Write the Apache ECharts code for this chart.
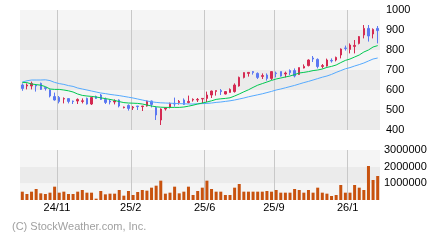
<!DOCTYPE html>
<html>
<head>
<meta charset="utf-8">
<script src="https://cdn.jsdelivr.net/npm/echarts@6/dist/echarts.min.js"></script>
<style>
html, body { margin: 0; padding: 0; background: #fff; }
#chart { width: 440px; height: 240px; }
</style>
</head>
<body>
<div id="chart"></div>
<script>
// weekly candles
const openP = [625,620,620,625,633,612,600,567,563,555,557,545,545,543,558,530,567,575,553,545,
  540,550,512,523,511,520,517,520,545,512,450,505,513,533,538,550,537,550,550,555,
  558,575,593,597,580,588,592,620,663,683,692,683,668,675,658,685,692,680,697,697,
  678,710,722,760,753,718,720,748,750,775,810,803,818,833,875,908,880,908];
const closeP = [608,625,633,620,603,608,570,550,542,557,543,542,553,546,530,562,558,553,538,540,
  545,520,515,508,515,517,520,545,528,475,505,510,533,530,543,528,543,553,553,558,
  575,595,597,592,592,603,625,663,687,688,687,663,672,658,692,682,670,685,687,670,
  712,718,750,755,717,722,750,745,763,805,808,825,823,867,908,870,903,897];
const lowP = [596,603,603,592,600,597,563,547,533,533,533,530,530,533,527,525,555,550,530,528,
  528,513,508,497,500,500,495,517,513,450,425,497,508,517,527,525,533,542,540,533,
  540,560,572,575,578,587,587,617,658,667,677,655,655,647,650,663,667,663,675,663,
  675,708,718,740,708,708,717,737,743,758,797,783,783,828,858,842,858,833];
const highP = [633,633,642,625,637,615,603,587,570,563,558,547,558,558,562,567,572,580,562,553,
  553,553,517,528,520,520,520,547,547,517,508,513,537,562,550,558,572,558,560,558,
  592,597,597,605,595,608,633,667,688,688,695,688,683,683,692,692,692,692,703,708,
  712,728,753,770,758,730,757,758,767,808,822,833,850,870,925,925,908,920];

// moving averages (green = short, blue = long)
const maShort = [638,637,630,627,624,617,605,603,603,600,596,590,580,573,570,568,565,561,557,553,
  548,542,537,535,534,533,530,525,520,516,514,513,513,513,513,515,519,524,530,535,
  540,546,553,556,558,561,570,580,591,601,613,624,632,640,648,655,660,665,670,677,
  685,688,692,697,700,705,713,718,725,737,748,755,765,775,790,800,815,822];
const maLong = [640,646,650,650,650,651,647,638,632,628,622,618,610,605,600,595,590,585,582,578,
  575,572,568,564,560,555,550,545,541,538,536,535,534,533,532,531,530,530,531,532,
  533,535,538,540,543,546,550,555,560,566,571,576,581,587,593,600,605,611,617,623,
  630,637,643,650,657,664,670,678,688,697,706,712,720,727,735,745,755,760];

const volume = [500000,360000,500000,660000,400000,360000,440000,800000,440000,500000,
  360000,360000,500000,600000,440000,440000,80000,540000,340000,380000,
  380000,600000,260000,540000,300000,480000,600000,560000,740000,860000,
  1160000,380000,440000,800000,400000,500000,800000,300000,540000,740000,
  1160000,660000,500000,500000,300000,300000,740000,960000,500000,500000,
  500000,500000,500000,540000,500000,600000,440000,440000,440000,660000,
  600000,440000,600000,440000,740000,440000,380000,240000,300000,900000,
  440000,440000,900000,740000,600000,2040000,1200000,1440000];

const tickPos = [8, 24, 40, 55, 71];
const tickLabels = ['24/11', '25/2', '25/6', '25/9', '26/1'];

const weeks = openP.map((v, i) => i);
const candles = openP.map((o, i) => [o, closeP[i], lowP[i], highP[i]]);

const FONT = 'Liberation Sans';
const chart = echarts.init(document.getElementById('chart'), null, { width: 440, height: 240 });

const option = {
  animation: false,
  grid: [
    { left: 20, right: 60, top: 10, height: 120 },
    { left: 20, right: 60, top: 150, height: 50 }
  ],
  xAxis: [
    { type: 'category', gridIndex: 0, data: weeks, show: false },
    { type: 'category', gridIndex: 1, data: weeks, show: false },
    {
      type: 'value', gridIndex: 0, min: 0, max: openP.length, position: 'bottom',
      axisLine: { show: false },
      axisTick: { show: false, customValues: tickPos },
      axisLabel: { show: false },
      splitLine: { show: true, lineStyle: { color: '#c8c8c8', width: 1 } }
    },
    {
      type: 'value', gridIndex: 1, min: 0, max: openP.length, position: 'bottom',
      axisLine: { show: false },
      axisTick: { show: false, customValues: tickPos },
      axisLabel: {
        customValues: tickPos,
        formatter: v => tickLabels[tickPos.indexOf(v)],
        margin: 2, fontSize: 11, color: '#000', fontFamily: FONT
      },
      splitLine: { show: true, lineStyle: { color: '#c8c8c8', width: 1 } }
    }
  ],
  yAxis: [
    {
      type: 'value', gridIndex: 0, position: 'right', min: 400, max: 1000, interval: 100,
      axisLine: { show: false }, axisTick: { show: false },
      axisLabel: { margin: 6, fontSize: 11, color: '#000', fontFamily: FONT, formatter: v => String(v) },
      splitLine: { show: false },
      splitArea: { show: true, areaStyle: { color: ['#ebebeb', '#f5f5f5'] } }
    },
    {
      type: 'value', gridIndex: 1, position: 'right', min: 0, max: 3000000, interval: 1000000,
      axisLine: { show: false }, axisTick: { show: false },
      axisLabel: {
        margin: 4, fontSize: 11, color: '#000', fontFamily: FONT,
        formatter: v => (v === 0 ? '' : String(v))
      },
      splitLine: { show: false },
      splitArea: { show: true, areaStyle: { color: ['#f5f5f5', '#ebebeb'] } }
    }
  ],
  series: [
    {
      type: 'line', xAxisIndex: 0, yAxisIndex: 0, data: maLong,
      showSymbol: false, lineStyle: { color: '#55aaff', width: 1 }
    },
    {
      type: 'line', xAxisIndex: 0, yAxisIndex: 0, data: maShort,
      showSymbol: false, lineStyle: { color: '#00c850', width: 1 }
    },
    {
      type: 'candlestick', xAxisIndex: 0, yAxisIndex: 0, data: candles,
      barWidth: 2,
      itemStyle: {
        color: '#d42a52', color0: '#5b78f2',
        borderColor: '#d42a52', borderColor0: '#5b78f2', borderWidth: 1
      }
    },
    {
      type: 'bar', xAxisIndex: 1, yAxisIndex: 1, data: volume,
      barWidth: 3, itemStyle: { color: '#c8520e' }
    }
  ],
  graphic: [
    {
      type: 'text', left: 12, top: 221,
      style: { text: '(C) StockWeather.com, Inc.', fill: '#a0a0a0', font: '11px "Liberation Sans"' }
    }
  ]
};
chart.setOption(option);
</script>
</body>
</html>
